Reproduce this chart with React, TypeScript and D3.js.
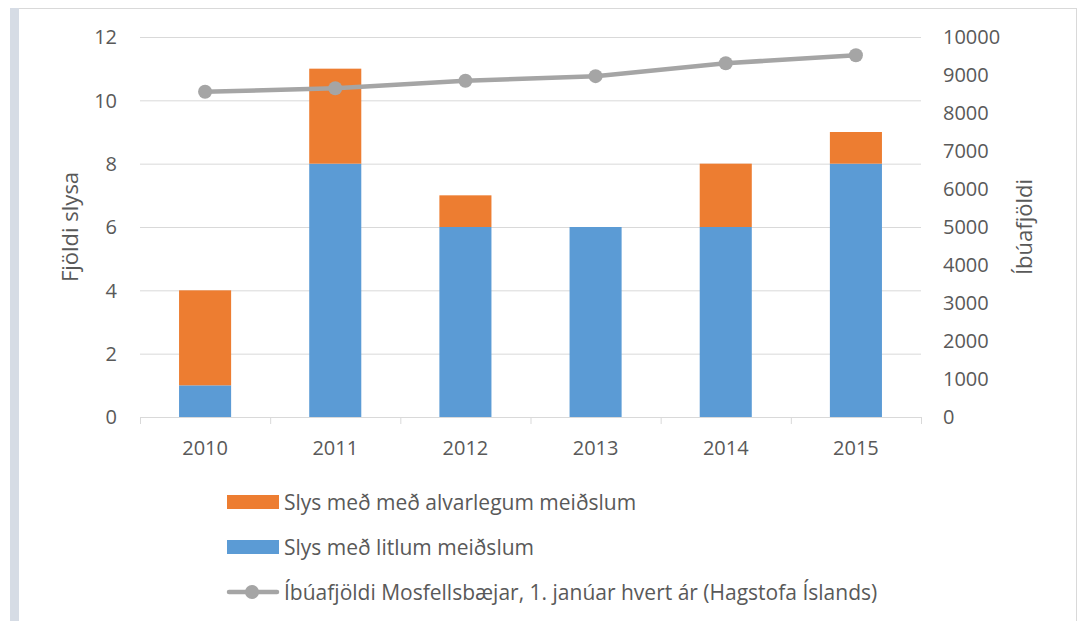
import React from "react";
import * as d3 from "d3";

const years = ["2010", "2011", "2012", "2013", "2014", "2015"];
const minor = [1, 8, 6, 6, 6, 8];
const serious = [3, 3, 1, 0, 2, 1];
const population = [8560, 8650, 8850, 8970, 9310, 9520];
const leftTicks = [0, 2, 4, 6, 8, 10, 12];
const rightTicks = [0, 1000, 2000, 3000, 4000, 5000, 6000, 7000, 8000, 9000, 10000];
const legendLabels = [
  "Slys með með alvarlegum meiðslum",
  "Slys með litlum meiðslum",
  "Íbúafjöldi Mosfellsbæjar, 1. janúar hvert ár (Hagstofa Íslands)",
];

const W = 1079, H = 621;
const plot = { left: 140, right: 921, top: 37, bottom: 417 };
const FONT = "'Open Sans', Lato, sans-serif";
const TXT = "#595959";
const ORANGE = "#ed7d31", BLUE = "#5b9bd5", GREY = "#a5a5a5";

export default function App() {
  const x = d3.scaleBand<string>().domain(years).range([plot.left, plot.right]).paddingInner(0.6).paddingOuter(0.3);
  const band = d3.scaleBand<string>().domain(years).range([plot.left, plot.right]);
  const y = d3.scaleLinear().domain([0, 12]).range([plot.bottom, plot.top]);
  const y2 = d3.scaleLinear().domain([0, 10000]).range([plot.bottom, plot.top]);
  const line = d3.line<number>().x((_, i) => band(years[i])! + band.bandwidth() / 2).y((d) => y2(d));
  const midY = (plot.top + plot.bottom) / 2;

  return (
    <div style={{ position: "absolute", left: 0, top: 0, width: W, height: H }}>
      <svg width={W} height={H} style={{ display: "block", fontFamily: FONT }}>
        <rect x={0} y={0} width={W} height={H} fill="#fff" />
        <rect x={10} y={8} width={9} height={H - 8} fill="#d6dce5" />
        <line x1={19} x2={1077} y1={8.5} y2={8.5} stroke="#d9d9d9" />
        <line x1={1076.5} x2={1076.5} y1={8} y2={H} stroke="#d9d9d9" />
        {leftTicks.slice(1).map((t) => (
          <line key={t} x1={plot.left} x2={plot.right} y1={y(t) + 0.5} y2={y(t) + 0.5} stroke="#d9d9d9" strokeWidth={1} />
        ))}
        {years.map((yr, i) => (
          <g key={yr}>
            <rect x={x(yr)} y={y(minor[i])} width={x.bandwidth()} height={y(0) - y(minor[i])} fill={BLUE} />
            {serious[i] > 0 && (
              <rect x={x(yr)} y={y(minor[i] + serious[i])} width={x.bandwidth()} height={y(minor[i]) - y(minor[i] + serious[i])} fill={ORANGE} />
            )}
          </g>
        ))}
        <line x1={plot.left} x2={plot.right} y1={plot.bottom + 0.5} y2={plot.bottom + 0.5} stroke="#d9d9d9" />
        {[...years.map((yr) => band(yr)!), plot.right].map((bx, i) => (
          <line key={i} x1={bx + 0.5} x2={bx + 0.5} y1={plot.bottom} y2={plot.bottom + 7} stroke="#d9d9d9" />
        ))}
        <path d={line(population)!} fill="none" stroke={GREY} strokeWidth={4.5} strokeLinejoin="round" />
        {population.map((p, i) => (
          <circle key={i} cx={band(years[i])! + band.bandwidth() / 2} cy={y2(p)} r={7} fill={GREY} />
        ))}
        {leftTicks.map((t) => (
          <text key={t} x={117} y={y(t)} dy="0.36em" textAnchor="end" fontSize={20} fill={TXT}>{t}</text>
        ))}
        {rightTicks.map((t) => (
          <text key={t} x={943} y={y2(t)} dy="0.36em" textAnchor="start" fontSize={20} fill={TXT}>{t}</text>
        ))}
        {years.map((yr) => (
          <text key={yr} x={band(yr)! + band.bandwidth() / 2} y={455} textAnchor="middle" fontSize={20} fill={TXT}>{yr}</text>
        ))}
        <text transform={`translate(78,${midY}) rotate(-90)`} textAnchor="middle" fontSize={22} fill={TXT}>Fjöldi slysa</text>
        <text transform={`translate(1032,${midY}) rotate(-90)`} textAnchor="middle" fontSize={22} fill={TXT}>Íbúafjöldi</text>
        <g fontSize={21} fill={TXT}>
          <rect x={227} y={495} width={52} height={14} fill={ORANGE} />
          <text x={284} y={502} dy="0.36em">{legendLabels[0]}</text>
          <rect x={227} y={540} width={52} height={14} fill={BLUE} />
          <text x={284} y={547} dy="0.36em">{legendLabels[1]}</text>
          <line x1={229} x2={277} y1={592} y2={592} stroke={GREY} strokeWidth={4.5} strokeLinecap="round" />
          <circle cx={252} cy={592} r={7} fill={GREY} />
          <text x={284} y={592} dy="0.36em">{legendLabels[2]}</text>
        </g>
      </svg>
    </div>
  );
}
